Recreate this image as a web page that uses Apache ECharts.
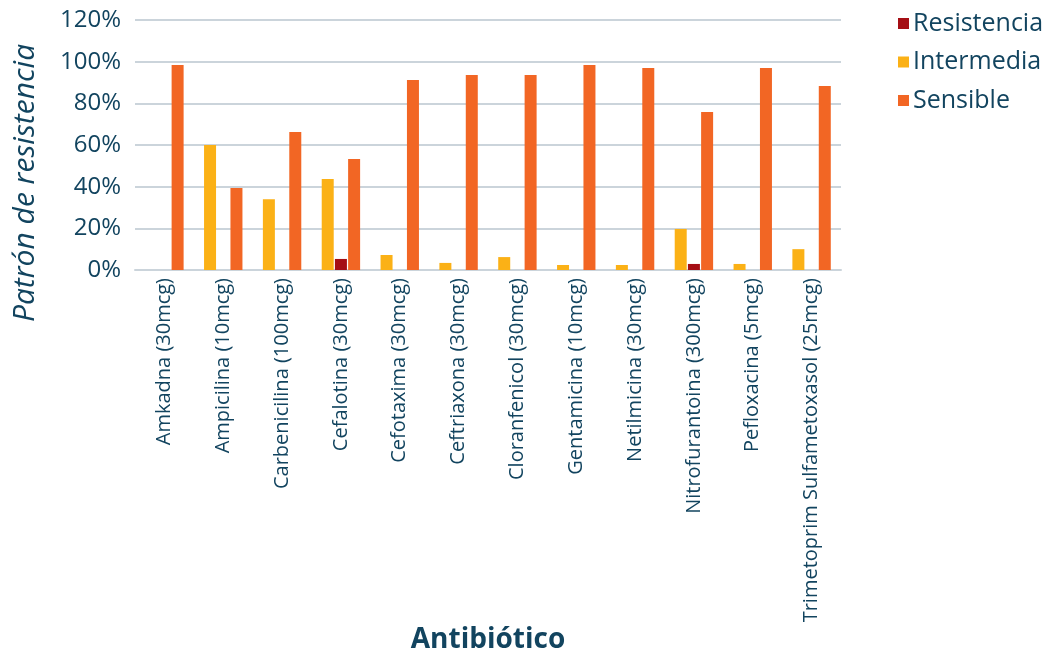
<!DOCTYPE html>
<html>
<head>
<meta charset="utf-8">
<script src="https://cdn.jsdelivr.net/npm/echarts@6/dist/echarts.min.js"></script>
<style>
html,body{margin:0;padding:0;background:#fff;}
#chart{width:1064px;height:654px;}
</style>
</head>
<body>
<div id="chart"></div>
<script>
const categories = [
  "Amkadna (30mcg)", "Ampicilina (10mcg)", "Carbenicilina (100mcg)", "Cefalotina (30mcg)",
  "Cefotaxima (30mcg)", "Ceftriaxona (30mcg)", "Cloranfenicol (30mcg)", "Gentamicina (10mcg)",
  "Netilmicina (30mcg)", "Nitrofurantoina (300mcg)", "Pefloxacina (5mcg)", "Trimetoprim Sulfametoxasol (25mcg)"
];
const resistencia = [0, 0, 0, 5.3, 0, 0, 0, 0, 0, 2.9, 0, 0];
const intermedia = [0, 60, 34, 43.7, 7.2, 3.4, 6.2, 2.4, 2.4, 19.7, 2.9, 10];
const sensible = [98.4, 39.4, 66.2, 53.3, 91.2, 93.6, 93.6, 98.4, 97, 75.8, 97, 88.3];
const yTicks = [0, 20, 40, 60, 80, 100, 120];

const textColor = "#12445f";
const font = "Open Sans";

const chart = echarts.init(document.getElementById('chart'));
chart.setOption({
  animation: false,
  textStyle: { fontFamily: font },
  grid: { left: 135, right: 223, top: 20, bottom: 384, containLabel: false, outerBoundsMode: "none" },
  legend: {
    data: ["Resistencia", "Intermedia", "Sensible"],
    orient: "vertical",
    left: 893,
    top: 6,
    itemWidth: 11,
    itemHeight: 11,
    itemGap: 13.5,
    icon: "rect",
    textStyle: { color: textColor, fontSize: 25, fontFamily: font, padding: [0, 0, 0, -1] }
  },
  xAxis: {
    type: "category",
    data: categories,
    name: "Antibiótico",
    nameLocation: "middle",
    nameGap: 353,
    nameTextStyle: { color: textColor, fontSize: 28, fontWeight: "bold", fontFamily: font },
    axisLine: { lineStyle: { color: "#cbd4db", width: 2 } },
    axisTick: { show: false },
    axisLabel: { rotate: 90, interval: 0, color: textColor, fontSize: 20, margin: 8 }
  },
  yAxis: {
    type: "value",
    min: 0, max: 120, interval: 20,
    name: "Patrón de resistencia",
    nameLocation: "middle",
    nameGap: 95,
    nameTextStyle: { color: textColor, fontSize: 30, fontStyle: "italic", fontFamily: font, padding: [0, 76, 0, 0] },
    axisLine: { show: false },
    axisTick: { show: false },
    splitLine: { lineStyle: { color: "#cbd4db", width: 2 } },
    axisLabel: {
      color: textColor, fontSize: 24, margin: 14,
      formatter: v => yTicks.includes(v) ? v + "%" : ""
    }
  },
  series: [
    { name: "Intermedia", type: "bar", data: intermedia, barWidth: 12, barGap: "10%", itemStyle: { color: "#fbb116" } },
    { name: "Resistencia", type: "bar", data: resistencia, barWidth: 12, barGap: "10%", itemStyle: { color: "#a50e14" } },
    { name: "Sensible", type: "bar", data: sensible, barWidth: 12, barGap: "10%", itemStyle: { color: "#f26624" } }
  ]
});
</script>
</body>
</html>
